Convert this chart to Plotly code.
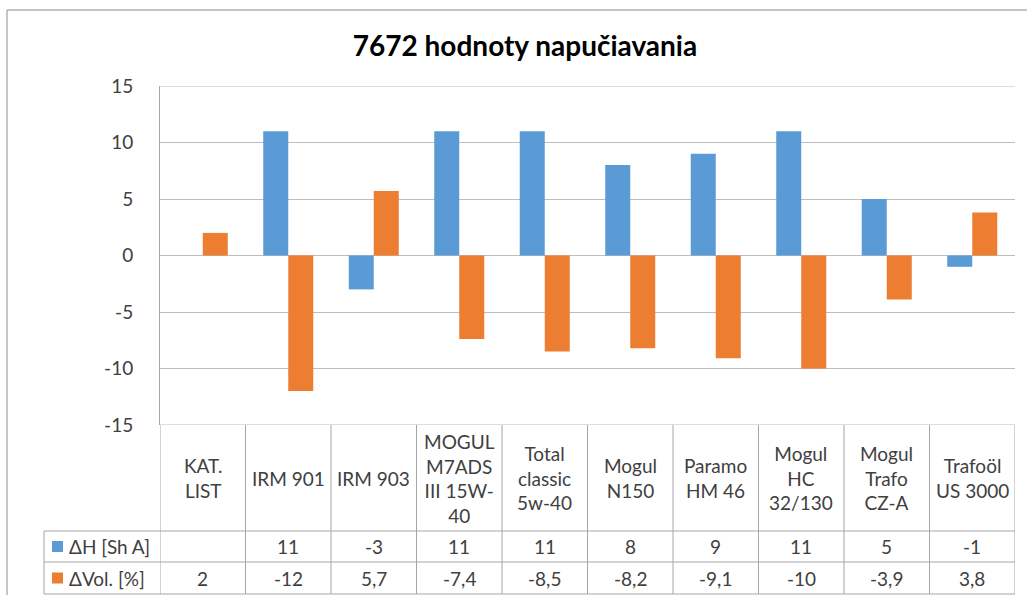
import plotly.graph_objects as go

categories = ["KAT.<br>LIST", "IRM 901", "IRM 903", "MOGUL<br>M7ADS<br>III 15W-<br>40",
              "Total<br>classic<br>5w-40", "Mogul<br>N150", "Paramo<br>HM 46",
              "Mogul<br>HC<br>32/130", "Mogul<br>Trafo<br>CZ-A", "Trafoöl<br>US 3000"]
series_names = ["ΔH [Sh A]", "ΔVol. [%]"]
dH = [None, 11, -3, 11, 11, 8, 9, 11, 5, -1]
dVol = [2, -12, 5.7, -7.4, -8.5, -8.2, -9.1, -10, -3.9, 3.8]
dH_text = ["", "11", "-3", "11", "11", "8", "9", "11", "5", "-1"]
dVol_text = ["2", "-12", "5,7", "-7,4", "-8,5", "-8,2", "-9,1", "-10", "-3,9", "3,8"]
y_ticks = [-15, -10, -5, 0, 5, 10, 15]
y_ticktext = ["-15", "-10", "-5", "0", "5", "10", "15"]

BLUE = "#5B9BD5"
ORANGE = "#ED7D31"
GRID = "#BDBDBD"
LINE = "#A6A6A6"
TXT = "#404040"
FONT = "Lato"
FS = 19

W, H = 1027, 595
L, R, T, B = 160, 12, 86, 170
plot_h = H - T - B
plot_w = W - L - R

def py(pix):
    # pixel y (from top) -> paper y
    return (H - B - pix) / plot_h

def px(pix):
    return (pix - L) / plot_w

idx = list(range(len(categories)))

fig = go.Figure()
fig.add_trace(go.Bar(x=idx, y=dH, name=series_names[0], marker=dict(color=BLUE, line=dict(width=0))))
fig.add_trace(go.Bar(x=idx, y=dVol, name=series_names[1], marker=dict(color=ORANGE, line=dict(width=0))))

shapes = []
annotations = []

row1_top, row2_top, row3_top, table_bot = 425, 531, 562, 594

# top and bottom gridlines of plot area
for yv in (y_ticks[0], y_ticks[-1]):
    shapes.append(dict(type="line", xref="paper", yref="y", x0=0, x1=1, y0=yv, y1=yv,
                       line=dict(color=GRID, width=1), layer="below"))

# vertical cell borders
for i in range(len(categories) + 1):
    shapes.append(dict(type="line", xref="x", yref="paper", x0=i - 0.5, x1=i - 0.5,
                       y0=py(row1_top), y1=py(table_bot), line=dict(color=LINE, width=1)))
# left border of legend column
shapes.append(dict(type="line", xref="paper", yref="paper", x0=px(44), x1=px(44),
                   y0=py(row2_top), y1=py(table_bot), line=dict(color=LINE, width=1)))
# horizontal borders
for yy in (row2_top, row3_top, table_bot):
    shapes.append(dict(type="line", xref="paper", yref="paper", x0=px(44), x1=1,
                       y0=py(yy), y1=py(yy), line=dict(color=LINE, width=1)))

# header labels
for i, c in enumerate(categories):
    annotations.append(dict(x=i, y=py((row1_top + row2_top) / 2), xref="x", yref="paper",
                            text=c, showarrow=False, font=dict(family=FONT, size=FS, color=TXT),
                            align="center", xanchor="center", yanchor="middle"))
# value rows
for row_top, row_bot, vals in ((row2_top, row3_top, dH_text), (row3_top, table_bot, dVol_text)):
    for i, v in enumerate(vals):
        if v:
            annotations.append(dict(x=i, y=py((row_top + row_bot) / 2), xref="x", yref="paper",
                                    text=v, showarrow=False, font=dict(family=FONT, size=FS, color=TXT),
                                    xanchor="center", yanchor="middle"))

# legend keys in table
for row_top, row_bot, name, col in ((row2_top, row3_top, series_names[0], BLUE),
                                    (row3_top, table_bot, series_names[1], ORANGE)):
    mid = (row_top + row_bot) / 2
    shapes.append(dict(type="rect", xref="paper", yref="paper", x0=px(52), x1=px(63),
                       y0=py(mid + 5.5), y1=py(mid - 5.5), fillcolor=col, line=dict(width=0)))
    annotations.append(dict(x=px(67), y=py(mid), xref="paper", yref="paper",
                            text=name, showarrow=False, font=dict(family=FONT, size=FS, color=TXT),
                            xanchor="left", yanchor="middle"))

# outer chart border (top & left)
shapes.append(dict(type="line", xref="paper", yref="paper", x0=px(7), x1=px(1040),
                   y0=py(10), y1=py(10), line=dict(color="#8C8C8C", width=1)))
shapes.append(dict(type="line", xref="paper", yref="paper", x0=px(7), x1=px(7),
                   y0=py(10), y1=py(610), line=dict(color="#8C8C8C", width=1)))

fig.update_layout(
    width=W, height=H,
    margin=dict(l=L, r=R, t=T, b=B),
    paper_bgcolor="white", plot_bgcolor="white",
    barmode="group", bargap=0.415, bargroupgap=0,
    showlegend=False,
    title=dict(text="<b>7672 hodnoty napučiavania</b>", x=525 / W, xref="container", xanchor="center",
               y=1 - 46 / H, yref="container", yanchor="middle",
               font=dict(family=FONT, size=28, color="#000000")),
    font=dict(family=FONT, color=TXT),
    shapes=shapes, annotations=annotations,
)
fig.update_xaxes(range=[-0.5, len(categories) - 0.5], showticklabels=False, showgrid=False,
                 zeroline=False, showline=False, ticks="")
fig.update_yaxes(range=[-15, 15], tickvals=y_ticks, ticktext=y_ticktext, showgrid=True,
                 gridcolor=GRID, gridwidth=1,
                 zeroline=True, zerolinecolor=GRID, zerolinewidth=1,
                 showline=True, linecolor=LINE, linewidth=1, ticks="",
                 tickfont=dict(family=FONT, size=FS, color=TXT), ticklabelstandoff=22)

fig.write_html("out.html", config={"displayModeBar": False},
               post_script="document.body.style.margin='0';document.body.style.padding='0';")
